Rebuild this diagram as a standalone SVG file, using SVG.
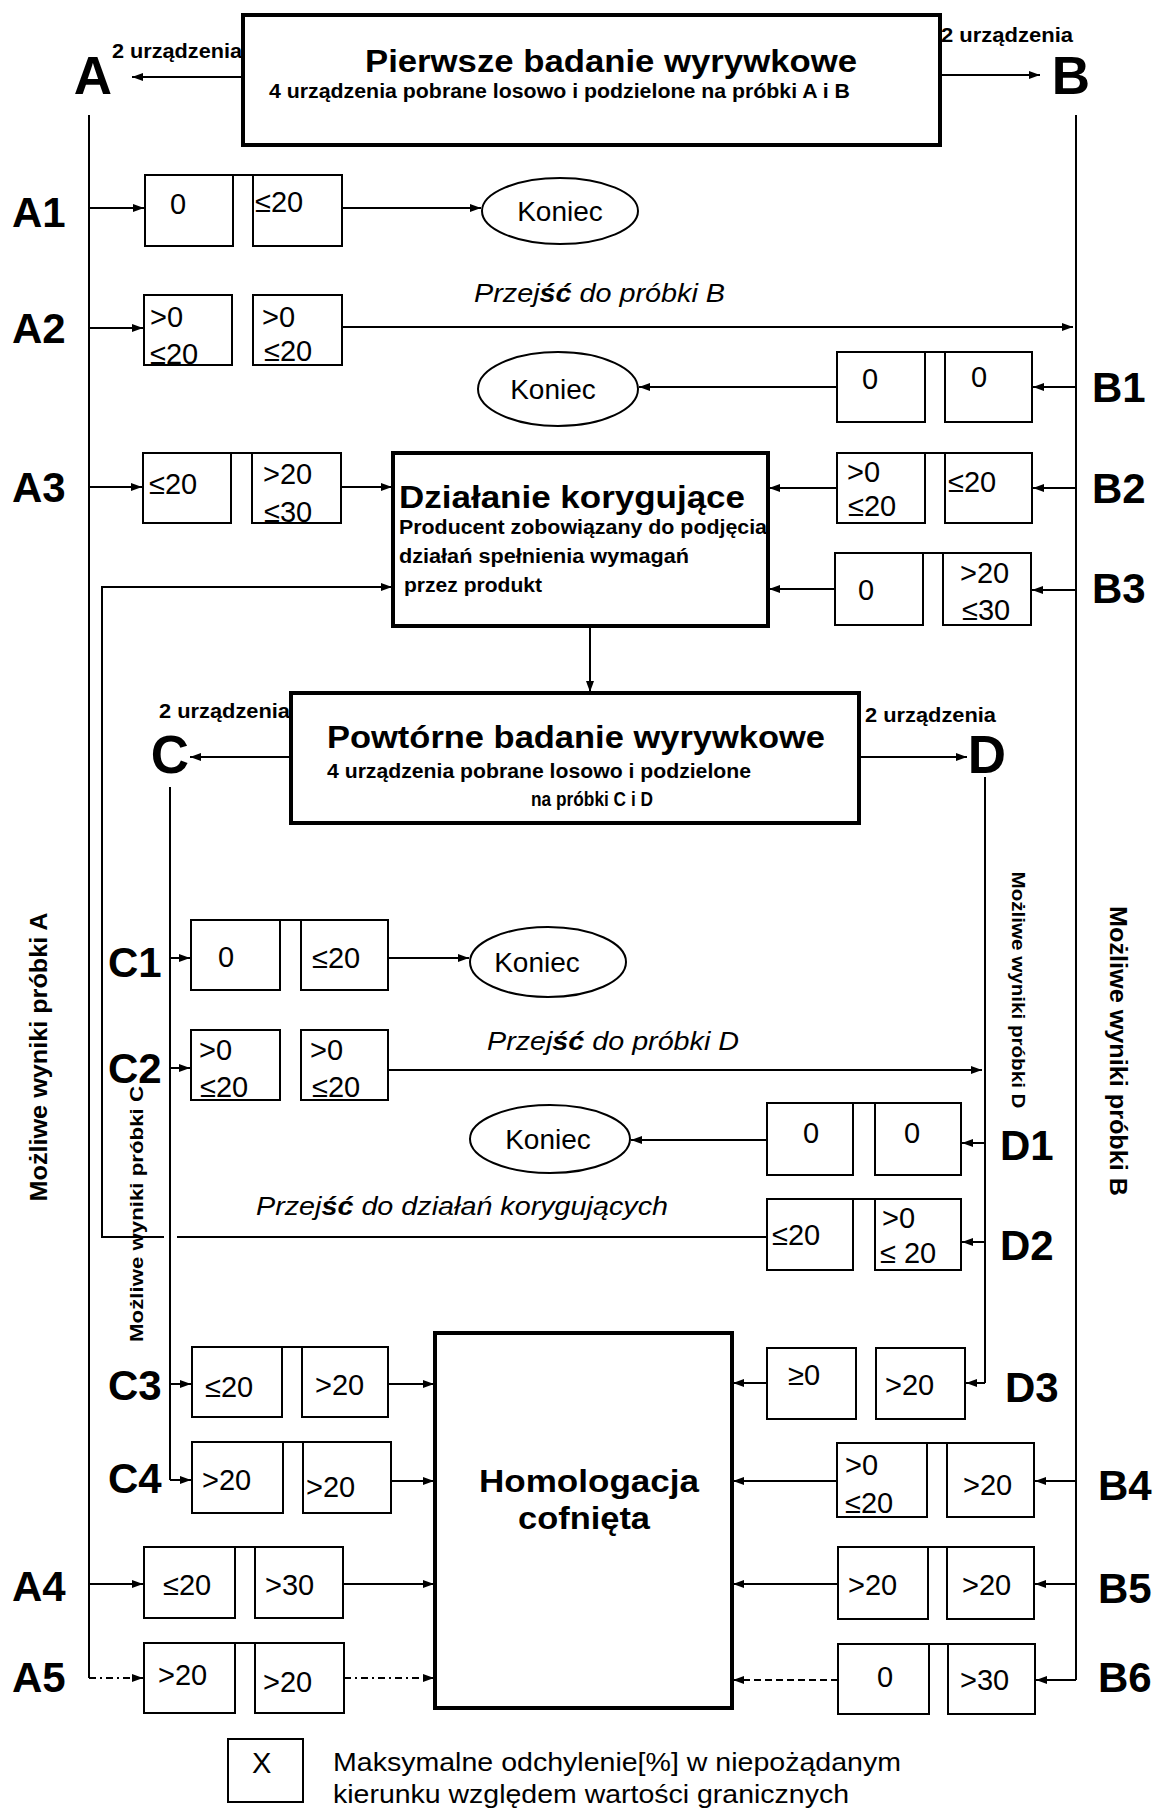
<svg xmlns="http://www.w3.org/2000/svg" width="1155" height="1811" viewBox="0 0 1155 1811">
<style>
.ln{stroke:#000;stroke-width:2;fill:none}
.dsh{stroke-dasharray:7,4}
.dd{stroke-dasharray:7,4,2,4}
.bx{fill:#fff;stroke:#000;stroke-width:2}
.tb{fill:#fff;stroke:#000;stroke-width:4}
.el{fill:#fff;stroke:#000;stroke-width:2}
text{font-family:"Liberation Sans",Arial,sans-serif;fill:#000}
.lbl{font-weight:bold;font-size:42px}
.big{font-weight:bold;font-size:53px}
.val{font-size:29px}
.ko{font-size:28px}
.hd{font-weight:bold;font-size:31px}
.sub{font-weight:bold;font-size:20px}
.dev{font-weight:bold;font-size:20px}
.it{font-style:italic;font-size:26px}
.rot{font-weight:bold;font-size:23px}
.rots{font-weight:bold;font-size:18px}
.leg{font-size:26px}
</style>
<defs>
<marker id="ah" markerUnits="userSpaceOnUse" markerWidth="11" markerHeight="8" refX="11" refY="4" orient="auto">
<path d="M0,0 L11,4 L0,8 z" fill="#000"/>
</marker>
</defs>

<g id="connectors">
<line class="ln" x1="243" y1="77" x2="132" y2="77" marker-end="url(#ah)"/>
<line class="ln" x1="940" y1="75" x2="1040" y2="75" marker-end="url(#ah)"/>
<line class="ln" x1="89" y1="115" x2="89" y2="1678"/>
<line class="ln" x1="89" y1="208" x2="144" y2="208" marker-end="url(#ah)"/>
<line class="ln" x1="89" y1="328" x2="143" y2="328" marker-end="url(#ah)"/>
<line class="ln" x1="89" y1="487" x2="142" y2="487" marker-end="url(#ah)"/>
<line class="ln" x1="89" y1="1584" x2="143" y2="1584" marker-end="url(#ah)"/>
<line class="ln dd" x1="89" y1="1678" x2="143" y2="1678" marker-end="url(#ah)"/>
<line class="ln" x1="342" y1="208" x2="481" y2="208" marker-end="url(#ah)"/>
<line class="ln" x1="342" y1="327" x2="1073" y2="327" marker-end="url(#ah)"/>
<line class="ln" x1="341" y1="487" x2="392" y2="487" marker-end="url(#ah)"/>
<line class="ln" x1="343" y1="1584" x2="434" y2="1584" marker-end="url(#ah)"/>
<line class="ln dd" x1="344" y1="1678" x2="434" y2="1678" marker-end="url(#ah)"/>
<line class="ln" x1="1076" y1="115" x2="1076" y2="1680"/>
<line class="ln" x1="1076" y1="387" x2="1033" y2="387" marker-end="url(#ah)"/>
<line class="ln" x1="1076" y1="488" x2="1033" y2="488" marker-end="url(#ah)"/>
<line class="ln" x1="1076" y1="590" x2="1032" y2="590" marker-end="url(#ah)"/>
<line class="ln" x1="1076" y1="1481" x2="1035" y2="1481" marker-end="url(#ah)"/>
<line class="ln" x1="1076" y1="1584" x2="1035" y2="1584" marker-end="url(#ah)"/>
<line class="ln" x1="1076" y1="1680" x2="1036" y2="1680" marker-end="url(#ah)"/>
<line class="ln" x1="837" y1="387" x2="639" y2="387" marker-end="url(#ah)"/>
<line class="ln" x1="837" y1="488" x2="769" y2="488" marker-end="url(#ah)"/>
<line class="ln" x1="835" y1="589" x2="769" y2="589" marker-end="url(#ah)"/>
<line class="ln" x1="837" y1="1481" x2="733" y2="1481" marker-end="url(#ah)"/>
<line class="ln" x1="838" y1="1584" x2="733" y2="1584" marker-end="url(#ah)"/>
<line class="ln dsh" x1="838" y1="1680" x2="733" y2="1680" marker-end="url(#ah)"/>
<line class="ln" x1="590" y1="626" x2="590" y2="692" marker-end="url(#ah)"/>
<line class="ln" x1="291" y1="757" x2="190" y2="757" marker-end="url(#ah)"/>
<line class="ln" x1="859" y1="757" x2="967" y2="757" marker-end="url(#ah)"/>
<line class="ln" x1="170" y1="787" x2="170" y2="1480"/>
<line class="ln" x1="170" y1="958" x2="190" y2="958" marker-end="url(#ah)"/>
<line class="ln" x1="170" y1="1068" x2="190" y2="1068" marker-end="url(#ah)"/>
<line class="ln" x1="170" y1="1384" x2="191" y2="1384" marker-end="url(#ah)"/>
<line class="ln" x1="170" y1="1480" x2="191" y2="1480" marker-end="url(#ah)"/>
<line class="ln" x1="388" y1="958" x2="469" y2="958" marker-end="url(#ah)"/>
<line class="ln" x1="388" y1="1070" x2="982" y2="1070" marker-end="url(#ah)"/>
<line class="ln" x1="388" y1="1384" x2="434" y2="1384" marker-end="url(#ah)"/>
<line class="ln" x1="391" y1="1481" x2="434" y2="1481" marker-end="url(#ah)"/>
<line class="ln" x1="985" y1="777" x2="985" y2="1383"/>
<line class="ln" x1="985" y1="1143" x2="962" y2="1143" marker-end="url(#ah)"/>
<line class="ln" x1="985" y1="1242" x2="962" y2="1242" marker-end="url(#ah)"/>
<line class="ln" x1="985" y1="1383" x2="966" y2="1383" marker-end="url(#ah)"/>
<line class="ln" x1="767" y1="1140" x2="631" y2="1140" marker-end="url(#ah)"/>
<line class="ln" x1="767" y1="1383" x2="733" y2="1383" marker-end="url(#ah)"/>
<line class="ln" x1="767" y1="1237" x2="177" y2="1237"/>
<polyline class="ln" points="164,1237 102,1237 102,587 392,587" marker-end="url(#ah)"/>
</g>

<g id="n-pierwsze">
<rect class="tb" x="243" y="15" width="697" height="130"/>
<text class="hd" x="611" y="72" text-anchor="middle" font-size="32" textLength="492" lengthAdjust="spacingAndGlyphs">Pierwsze badanie wyrywkowe</text>
<text class="sub" x="269" y="98" textLength="581" lengthAdjust="spacingAndGlyphs">4 urządzenia pobrane losowo i podzielone na próbki A i B</text>
</g>
<g id="lbl-A">
<text class="big" x="93" y="94" text-anchor="middle">A</text>
<text class="dev" x="112" y="58" textLength="130" lengthAdjust="spacingAndGlyphs">2 urządzenia</text>
</g>
<g id="lbl-B">
<text class="big" x="1071" y="94" text-anchor="middle">B</text>
<text class="dev" x="941" y="42" textLength="132" lengthAdjust="spacingAndGlyphs">2 urządzenia</text>
</g>

<g id="n-A1">
<text class="lbl" x="12" y="227">A1</text>
<rect class="bx" x="145" y="175" width="88" height="71"/><rect class="bx" x="253" y="175" width="89" height="71"/>
<line class="ln" x1="233" y1="175" x2="253" y2="175"/>
<text class="val" x="170" y="214">0</text><text class="val" x="255" y="212">≤20</text>
</g>
<g id="n-koniec1">
<ellipse class="el" cx="560" cy="211" rx="78" ry="33"/>
<text class="ko" x="560" y="221" text-anchor="middle">Koniec</text>
</g>

<g id="n-A2">
<text class="lbl" x="12" y="343">A2</text>
<rect class="bx" x="144" y="295" width="88" height="70"/><rect class="bx" x="253" y="295" width="89" height="70"/>
<text class="val" x="150" y="327">&gt;0</text><text class="val" x="150" y="364">≤20</text>
<text class="val" x="262" y="327">&gt;0</text><text class="val" x="264" y="361">≤20</text>
</g>
<text class="it" x="474" y="302" textLength="251" lengthAdjust="spacingAndGlyphs">Przej<tspan font-weight="bold">ść</tspan> do próbki B</text>

<g id="n-B1">
<text class="lbl" x="1092" y="402">B1</text>
<rect class="bx" x="837" y="352" width="88" height="70"/><rect class="bx" x="945" y="352" width="87" height="70"/>
<line class="ln" x1="925" y1="352" x2="945" y2="352"/>
<text class="val" x="862" y="389">0</text><text class="val" x="971" y="387">0</text>
</g>
<g id="n-koniec2">
<ellipse class="el" cx="558" cy="389" rx="80" ry="37"/>
<text class="ko" x="553" y="399" text-anchor="middle">Koniec</text>
</g>

<g id="n-A3">
<text class="lbl" x="12" y="502">A3</text>
<rect class="bx" x="143" y="453" width="88" height="70"/><rect class="bx" x="252" y="453" width="89" height="70"/>
<line class="ln" x1="231" y1="453" x2="252" y2="453"/>
<text class="val" x="149" y="494">≤20</text>
<text class="val" x="263" y="484">&gt;20</text><text class="val" x="264" y="522">≤30</text>
</g>
<g id="n-B2">
<text class="lbl" x="1092" y="503">B2</text>
<rect class="bx" x="837" y="453" width="88" height="70"/><rect class="bx" x="945" y="453" width="87" height="70"/>
<line class="ln" x1="925" y1="453" x2="945" y2="453"/>
<text class="val" x="847" y="482">&gt;0</text><text class="val" x="848" y="516">≤20</text>
<text class="val" x="948" y="492">≤20</text>
</g>
<g id="n-B3">
<text class="lbl" x="1092" y="603">B3</text>
<rect class="bx" x="835" y="553" width="88" height="72"/><rect class="bx" x="943" y="553" width="88" height="72"/>
<line class="ln" x1="923" y1="553" x2="943" y2="553"/>
<text class="val" x="858" y="600">0</text>
<text class="val" x="960" y="583">&gt;20</text><text class="val" x="962" y="620">≤30</text>
</g>

<g id="n-dzialanie">
<rect class="tb" x="393" y="453" width="375" height="173"/>
<text class="hd" x="399" y="508" font-size="30" textLength="346" lengthAdjust="spacingAndGlyphs">Działanie korygujące</text>
<text class="sub" x="399" y="534" textLength="368" lengthAdjust="spacingAndGlyphs">Producent zobowiązany do podjęcia</text>
<text class="sub" x="399" y="563" textLength="290" lengthAdjust="spacingAndGlyphs">działań spełnienia wymagań</text>
<text class="sub" x="404" y="592" textLength="138" lengthAdjust="spacingAndGlyphs">przez produkt</text>
</g>

<g id="n-powtorne">
<rect class="tb" x="291" y="693" width="568" height="130"/>
<text class="hd" x="576" y="748" text-anchor="middle" textLength="498" lengthAdjust="spacingAndGlyphs">Powtórne badanie wyrywkowe</text>
<text class="sub" x="327" y="778" textLength="424" lengthAdjust="spacingAndGlyphs">4 urządzenia pobrane losowo i podzielone</text>
<text class="sub" x="531" y="806" textLength="122" lengthAdjust="spacingAndGlyphs">na próbki C i D</text>
</g>
<g id="lbl-C">
<text class="big" x="170" y="773" text-anchor="middle" font-size="51">C</text>
<text class="dev" x="159" y="718" textLength="131" lengthAdjust="spacingAndGlyphs">2 urządzenia</text>
</g>
<g id="lbl-D">
<text class="big" x="987" y="773" text-anchor="middle" font-size="51">D</text>
<text class="dev" x="865" y="722" textLength="131" lengthAdjust="spacingAndGlyphs">2 urządzenia</text>
</g>

<g id="n-C1">
<text class="lbl" x="108" y="977">C1</text>
<rect class="bx" x="191" y="920" width="89" height="70"/><rect class="bx" x="301" y="920" width="87" height="70"/>
<line class="ln" x1="280" y1="920" x2="301" y2="920"/>
<text class="val" x="218" y="967">0</text><text class="val" x="312" y="968">≤20</text>
</g>
<g id="n-koniec3">
<ellipse class="el" cx="548" cy="962" rx="78" ry="35"/>
<text class="ko" x="537" y="972" text-anchor="middle">Koniec</text>
</g>
<g id="n-C2">
<text class="lbl" x="108" y="1083">C2</text>
<rect class="bx" x="191" y="1030" width="89" height="70"/><rect class="bx" x="301" y="1030" width="87" height="70"/>
<text class="val" x="199" y="1060">&gt;0</text><text class="val" x="200" y="1097">≤20</text>
<text class="val" x="310" y="1060">&gt;0</text><text class="val" x="312" y="1097">≤20</text>
</g>
<text class="it" x="487" y="1050" textLength="252" lengthAdjust="spacingAndGlyphs">Przej<tspan font-weight="bold">ść</tspan> do próbki D</text>

<g id="n-D1">
<text class="lbl" x="1000" y="1160">D1</text>
<rect class="bx" x="767" y="1103" width="86" height="72"/><rect class="bx" x="875" y="1103" width="86" height="72"/>
<line class="ln" x1="853" y1="1103" x2="875" y2="1103"/>
<text class="val" x="803" y="1143">0</text><text class="val" x="904" y="1143">0</text>
</g>
<g id="n-koniec4">
<ellipse class="el" cx="550" cy="1139" rx="80" ry="34"/>
<text class="ko" x="548" y="1149" text-anchor="middle">Koniec</text>
</g>
<text class="it" x="256" y="1215" textLength="412" lengthAdjust="spacingAndGlyphs">Przej<tspan font-weight="bold">ść</tspan> do działań korygujących</text>
<g id="n-D2">
<text class="lbl" x="1000" y="1260">D2</text>
<rect class="bx" x="767" y="1199" width="86" height="71"/><rect class="bx" x="875" y="1199" width="86" height="71"/>
<line class="ln" x1="853" y1="1199" x2="875" y2="1199"/>
<text class="val" x="772" y="1245">≤20</text>
<text class="val" x="882" y="1228">&gt;0</text><text class="val" x="880" y="1263">≤ 20</text>
</g>

<g id="n-C3">
<text class="lbl" x="108" y="1400">C3</text>
<rect class="bx" x="192" y="1347" width="90" height="70"/><rect class="bx" x="302" y="1347" width="86" height="70"/>
<line class="ln" x1="282" y1="1347" x2="302" y2="1347"/>
<text class="val" x="205" y="1397">≤20</text><text class="val" x="315" y="1395">&gt;20</text>
</g>
<g id="n-C4">
<text class="lbl" x="108" y="1493">C4</text>
<rect class="bx" x="192" y="1442" width="91" height="71"/><rect class="bx" x="303" y="1442" width="88" height="71"/>
<line class="ln" x1="283" y1="1442" x2="303" y2="1442"/>
<text class="val" x="202" y="1490">&gt;20</text><text class="val" x="306" y="1497">&gt;20</text>
</g>
<g id="n-D3">
<text class="lbl" x="1005" y="1402">D3</text>
<rect class="bx" x="767" y="1348" width="89" height="71"/><rect class="bx" x="876" y="1348" width="89" height="71"/>
<text class="val" x="788" y="1385">≥0</text><text class="val" x="885" y="1395">&gt;20</text>
</g>

<g id="n-homologacja">
<rect class="tb" x="435" y="1333" width="297" height="375"/>
<text class="hd" x="589" y="1492" text-anchor="middle" font-size="33" textLength="220" lengthAdjust="spacingAndGlyphs">Homologacja</text>
<text class="hd" x="584" y="1529" text-anchor="middle" font-size="33" textLength="132" lengthAdjust="spacingAndGlyphs">cofnięta</text>
</g>

<g id="n-B4">
<text class="lbl" x="1098" y="1500">B4</text>
<rect class="bx" x="837" y="1443" width="90" height="74"/><rect class="bx" x="947" y="1443" width="87" height="74"/>
<line class="ln" x1="927" y1="1443" x2="947" y2="1443"/>
<text class="val" x="845" y="1475">&gt;0</text><text class="val" x="845" y="1513">≤20</text>
<text class="val" x="963" y="1495">&gt;20</text>
</g>
<g id="n-A4">
<text class="lbl" x="12" y="1601">A4</text>
<rect class="bx" x="144" y="1547" width="91" height="71"/><rect class="bx" x="255" y="1547" width="88" height="71"/>
<line class="ln" x1="235" y1="1547" x2="255" y2="1547"/>
<text class="val" x="163" y="1595">≤20</text><text class="val" x="265" y="1595">&gt;30</text>
</g>
<g id="n-B5">
<text class="lbl" x="1098" y="1603">B5</text>
<rect class="bx" x="838" y="1547" width="90" height="72"/><rect class="bx" x="947" y="1547" width="87" height="72"/>
<line class="ln" x1="928" y1="1547" x2="947" y2="1547"/>
<text class="val" x="848" y="1595">&gt;20</text><text class="val" x="962" y="1595">&gt;20</text>
</g>
<g id="n-A5">
<text class="lbl" x="12" y="1692">A5</text>
<rect class="bx" x="144" y="1643" width="91" height="70"/><rect class="bx" x="255" y="1643" width="89" height="70"/>
<line class="ln" x1="235" y1="1643" x2="255" y2="1643"/>
<text class="val" x="158" y="1685">&gt;20</text><text class="val" x="263" y="1692">&gt;20</text>
</g>
<g id="n-B6">
<text class="lbl" x="1098" y="1692">B6</text>
<rect class="bx" x="838" y="1644" width="91" height="70"/><rect class="bx" x="948" y="1644" width="87" height="70"/>
<line class="ln" x1="929" y1="1644" x2="948" y2="1644"/>
<text class="val" x="877" y="1687">0</text><text class="val" x="960" y="1690">&gt;30</text>
</g>

<g id="side-labels">
<text class="rot" transform="translate(47,1057) rotate(-90)" text-anchor="middle" textLength="289" lengthAdjust="spacingAndGlyphs">Możliwe wyniki próbki A</text>
<text class="rot" transform="translate(1110,1051) rotate(90)" text-anchor="middle" textLength="290" lengthAdjust="spacingAndGlyphs">Możliwe wyniki próbki B</text>
<text class="rots" transform="translate(143,1214) rotate(-90)" text-anchor="middle" textLength="256" lengthAdjust="spacingAndGlyphs">Możliwe wyniki próbki C</text>
<text class="rots" transform="translate(1012,990) rotate(90)" text-anchor="middle" textLength="237" lengthAdjust="spacingAndGlyphs">Możliwe wyniki próbki D</text>
</g>

<g id="legend">
<rect class="bx" x="228" y="1739" width="75" height="63"/>
<text class="val" x="252" y="1773">X</text>
<text class="leg" x="333" y="1771" textLength="568" lengthAdjust="spacingAndGlyphs">Maksymalne odchylenie[%] w niepożądanym</text>
<text class="leg" x="333" y="1803" textLength="516" lengthAdjust="spacingAndGlyphs">kierunku względem wartości granicznych</text>
</g>
</svg>
